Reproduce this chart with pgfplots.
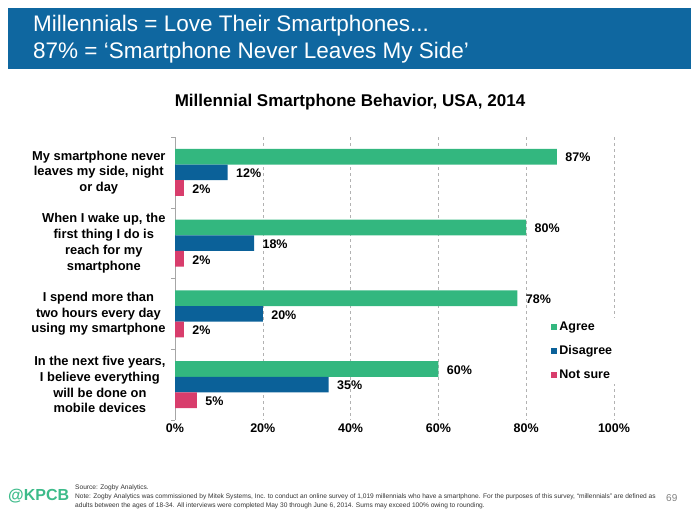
\documentclass[border=0pt]{standalone}
\usepackage{pgfplots}
\pgfplotsset{compat=1.18}
\usepackage{fontspec}
\setmainfont{Liberation Sans}
\definecolor{hdrblue}{HTML}{0F67A0}
\definecolor{agree}{HTML}{33B77F}
\definecolor{disagree}{HTML}{0B6199}
\definecolor{notsure}{HTML}{D83D6C}
\definecolor{kpcb}{HTML}{3DBB8A}
\newcommand\lbl{\fontsize{12.9}{15.7}\selectfont\bfseries}
\newcommand\tkl{\fontsize{12.5}{15}\selectfont\bfseries}
\begin{document}
\begin{tikzpicture}
\path[use as bounding box] (0pt,0pt) rectangle (700pt,525pt);
\fill[hdrblue] (8pt,456pt) rectangle (691pt,517pt);
\node[anchor=base west, text=white, inner sep=0pt, font=\fontsize{22.5}{26}\selectfont] at (33pt,493pt) {Millennials = Love Their Smartphones...};
\node[anchor=base west, text=white, inner sep=0pt, font=\fontsize{22.5}{26}\selectfont] at (33pt,466pt) {87\% = ‘Smartphone Never Leaves My Side’};
\node[anchor=base, inner sep=0pt, font=\fontsize{17}{20}\selectfont\bfseries] at (350pt,418pt) {Millennial Smartphone Behavior, USA, 2014};
\begin{axis}[
  at={(175pt,105pt)}, anchor=south west, scale only axis,
  width=439pt, height=283pt,
  xbar, xmin=0, xmax=100, ymin=-0.5, ymax=3.5, y dir=reverse,
  bar width=0.222,
  /pgf/number format/assume math mode=true,
  xtick={0,20,40,60,80,100},
  xticklabel={\pgfmathprintnumber{\tick}\%},
  xticklabel style={font=\tkl},
  xtick style={draw=none},
  ytick={0,1,2,3},
  yticklabels={{My smartphone never\\leaves my side, night\\or day},{When I wake up, the\\first thing I do is\\reach for my\\smartphone},{I spend more than\\two hours every day\\using my smartphone},{In the next five years,\\I believe everything\\will be done on\\mobile devices}},
  yticklabel style={align=center, font=\lbl, xshift=-6pt},
  minor ytick={-0.5,0.5,1.5,2.5,3.5},
  major tick length=0pt, minor tick length=4pt, tick align=outside,
  minor tick style={gray!70},
  axis y line*=left, axis x line*=bottom,
  x axis line style={draw=none},
  y axis line style={gray!70},
  xmajorgrids, grid style={dashed, gray!60, thin},
  nodes near coords={\pgfmathprintnumber{\pgfplotspointmeta}\%},
  nodes near coords style={font=\tkl, anchor=west, xshift=5pt, yshift=-1pt},
  legend style={at={(0.85,0.36)}, anchor=north west, draw=none, fill=white, font=\tkl, row sep=9.5pt, cells={anchor=west}},
  legend image code/.code={\fill[#1] (0pt,-3pt) rectangle (6pt,3pt);},
]
\addplot[fill=agree, draw=none, bar shift=-0.222] coordinates {(87,0) (80,1) (78,2) (60,3)};
\addplot[fill=disagree, draw=none, bar shift=0] coordinates {(12,0) (18,1) (20,2) (35,3)};
\addplot[fill=notsure, draw=none, bar shift=0.222] coordinates {(2,0) (2,1) (2,2) (5,3)};
\legend{Agree, Disagree, Not sure}
\end{axis}
\node[anchor=base west, inner sep=0pt, text=kpcb, font=\fontsize{16}{16}\selectfont\bfseries] at (8pt,25pt) {@KPCB};
\node[anchor=base west, inner sep=0pt, align=left, font=\fontsize{6.6}{9}\selectfont, text=black!80] at (75pt,36pt) {Source: Zogby Analytics.};
\node[anchor=base west, inner sep=0pt, font=\fontsize{6.6}{9}\selectfont, text=black!80] at (75pt,27pt) {Note: Zogby Analytics was commissioned by Mitek Systems, Inc. to conduct an online survey of 1,019 millennials who have a smartphone. For the purposes of this survey, “millennials” are defined as};
\node[anchor=base west, inner sep=0pt, font=\fontsize{6.6}{9}\selectfont, text=black!80] at (75pt,18pt) {adults between the ages of 18-34. All interviews were completed May 30 through June 6, 2014. Sums may exceed 100\% owing to rounding.};
\node[anchor=base west, inner sep=0pt, font=\fontsize{10}{10}\selectfont, text=gray] at (666pt,24pt) {69};
\end{tikzpicture}
\end{document}
